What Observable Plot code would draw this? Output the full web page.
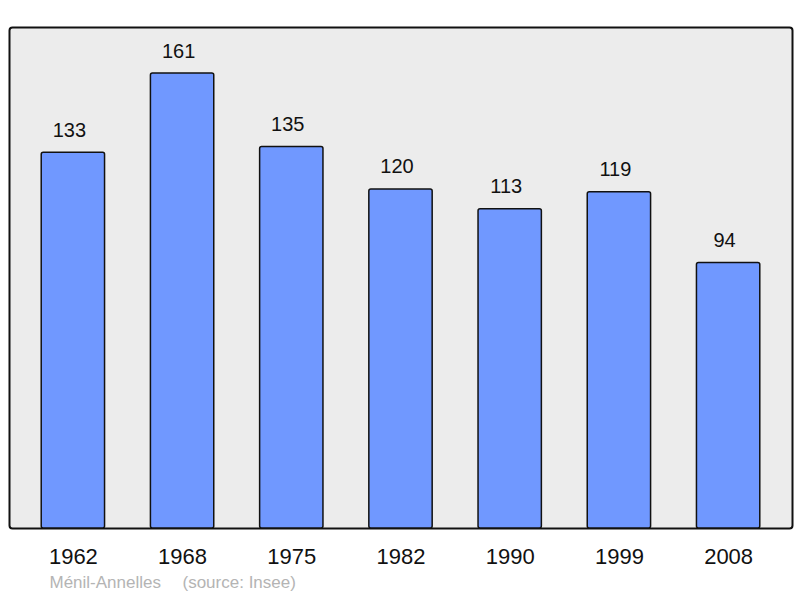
<!DOCTYPE html>
<html><head><meta charset="utf-8">
<script src="https://cdn.jsdelivr.net/npm/d3@7"></script>
<script src="https://cdn.jsdelivr.net/npm/@observablehq/plot@0.6"></script>
<style>body{margin:0;background:#fff;} svg{display:block;}</style>
</head><body><div id="chart"></div>
<script>
const years = ["1962","1968","1975","1982","1990","1999","2008"];
const population = [133,161,135,120,113,119,94];
const captionPlace = "Ménil-Annelles";
const captionSource = "(source: Insee)";
const data = years.map((y,i)=>({year:y, pop:population[i]}));

const chart = Plot.plot({
  width: 800, height: 598,
  marginLeft: 9, marginRight: 8, marginTop: 27, marginBottom: 70,
  style: {fontFamily: "'Liberation Sans', Arial, sans-serif", background: "#fff"},
  x: {domain: years, paddingInner: 0.42, paddingOuter: 0.295, round: false, label: null},
  y: {domain: [0, 177.3], axis: null},
  marks: [
    Plot.frame({fill: "#ececec", stroke: "#111", strokeWidth: 2, rx: 3}),
    Plot.barY(data, {x: "year", y: "pop", fill: "#7098ff", stroke: "#111", strokeWidth: 1.5, rx: 2}),
    Plot.text(data, {x: "year", y: "pop", text: d => String(d.pop), lineAnchor: "bottom", dx: -4, dy: -16, fontSize: 20, fill: "#111"}),
    Plot.axisX({tickSize: 0, tickPadding: 20, fontSize: 22, color: "#111", label: null}),
    Plot.text([captionPlace], {frameAnchor: "bottom-left", textAnchor: "start", lineAnchor: "bottom", dx: 40, dy: 59, fontSize: 17, fill: "#b4b4b4"}),
    Plot.text([captionSource], {frameAnchor: "bottom-left", textAnchor: "start", lineAnchor: "bottom", dx: 173, dy: 59, fontSize: 17, fill: "#b4b4b4"})
  ]
});
document.getElementById("chart").appendChild(chart);
</script></body></html>
